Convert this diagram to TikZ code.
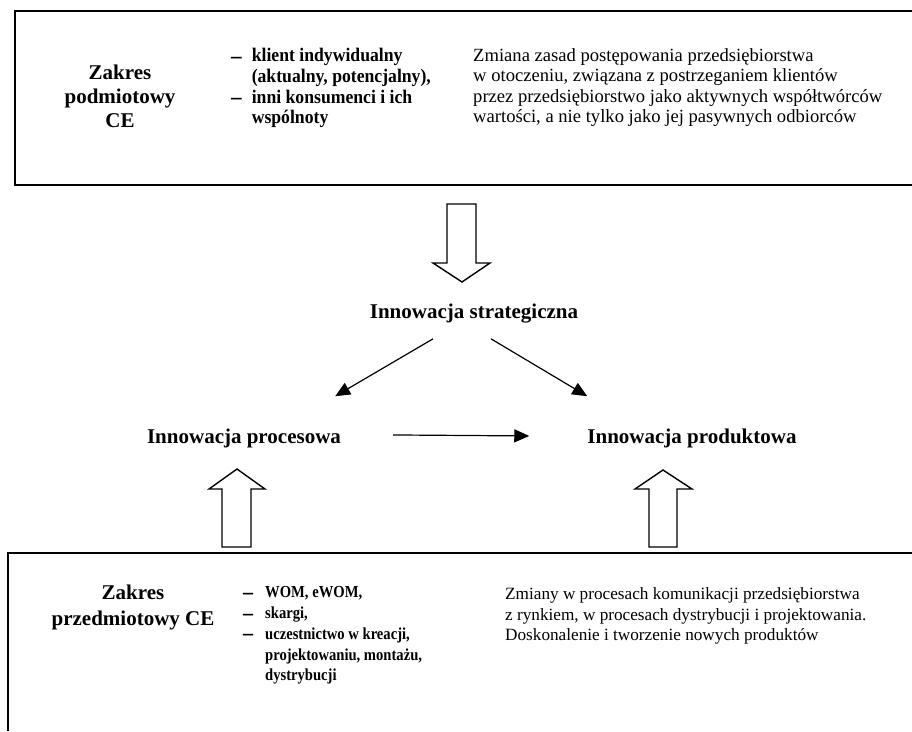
\documentclass[tikz,border=0pt]{standalone}
\usepackage{fontspec}
\setmainfont{Liberation Serif}
\newfontfamily\topfont[FakeStretch=0.92]{Liberation Serif}
\newfontfamily\botfont[FakeStretch=0.87]{Liberation Serif}
\usetikzlibrary{arrows.meta}
\newcommand\bdash{\raisebox{-1.5pt}{\fontsize{23}{23}\selectfont\bfseries –}}
\begin{document}
\begin{tikzpicture}[x = 1pt, y = -1pt,
  frame/.style = {line width = 1.6pt},
  blockarrow/.style = {line width = 1.4pt, fill = white, line join = miter},
  conn/.style = {line width = 1.2pt, -{Triangle[length = 15pt, width = 13pt]}},
  heading/.style = {inner sep = 0pt, font = \fontsize{21}{24}\selectfont\bfseries},
  listtext/.style = {inner sep = 0pt, anchor = north west},
  desc/.style = {inner sep = 0pt, anchor = north west}]
\useasboundingbox (0,0) rectangle (912,731);
\draw[frame] (912,11) -- (15,11) -- (15,185) -- (912,185);
\draw[frame] (912,553) -- (8,553) -- (8,731);
\node[heading, anchor = north] at (120,62) (zp) {\begin{tabular}{@{}c@{}}Zakres\\podmiotowy\\CE\end{tabular}};
\node[listtext, font = \topfont\bfseries\fontsize{19.2}{20.7}\selectfont] at (231,47) (lp) {\begin{tabular}{@{}l@{\hspace{10pt}}l@{}}\bdash & klient indywidualny\\ & (aktualny, potencjalny),\\ \bdash & inni konsumenci i ich\\ & wspólnoty\end{tabular}};
\node[desc, font = \fontsize{18.6}{20.3}\selectfont] at (473,47) (dp) {\begin{tabular}{@{}l@{}}Zmiana zasad postępowania przedsiębiorstwa\\w otoczeniu, związana z postrzeganiem klientów\\przez przedsiębiorstwo jako aktywnych współtwórców\\wartości, a nie tylko jako jej pasywnych odbiorców\end{tabular}};
\draw[blockarrow] (447,204) -- (476,204) -- (476,263) -- (490,263) -- (462,282) -- (433,263) -- (447,263) -- cycle;
\node[heading, anchor = base] at (474,318) (strat) {Innowacja strategiczna};
\node[heading, anchor = base] at (244,443) (proc) {Innowacja procesowa};
\node[heading, anchor = base] at (692,443) (prod) {Innowacja produktowa};
\draw[conn] ([xshift = -41pt, yshift = -16pt]strat.south) -- ([xshift = -6pt, yshift = 32pt]proc.north east);
\draw[conn] ([xshift = 17pt, yshift = -16pt]strat.south) -- ([yshift = 32pt]prod.north west);
\draw[conn] ([xshift = 52pt, yshift = 3pt]proc.east) -- ([xshift = -58pt, yshift = 2pt]prod.west);
\draw[blockarrow] (222,547) -- (222,489) -- (209,489) -- (237,469) -- (265,489) -- (251,489) -- (251,547) -- cycle;
\draw[blockarrow] (649,547) -- (649,489) -- (635,489) -- (663,470) -- (692,489) -- (677,489) -- (677,547) -- cycle;
\node[heading, anchor = north, font = \fontsize{21}{26}\selectfont\bfseries] at (133,581) (zq) {\begin{tabular}{@{}c@{}}Zakres\\przedmiotowy CE\end{tabular}};
\node[listtext, font = \botfont\bfseries\fontsize{16.8}{20.8}\selectfont] at (243,583) (lq) {\begin{tabular}{@{}l@{\hspace{12pt}}l@{}}\bdash & WOM, eWOM,\\ \bdash & skargi,\\ \bdash & uczestnictwo w kreacji,\\ & projektowaniu, montażu,\\ & dystrybucji\end{tabular}};
\node[desc, font = \fontsize{17.2}{20.5}\selectfont] at (505,585) (dq) {\begin{tabular}{@{}l@{}}Zmiany w procesach komunikacji przedsiębiorstwa\\z rynkiem, w procesach dystrybucji i projektowania.\\Doskonalenie i tworzenie nowych produktów\end{tabular}};
\end{tikzpicture}
\end{document}
